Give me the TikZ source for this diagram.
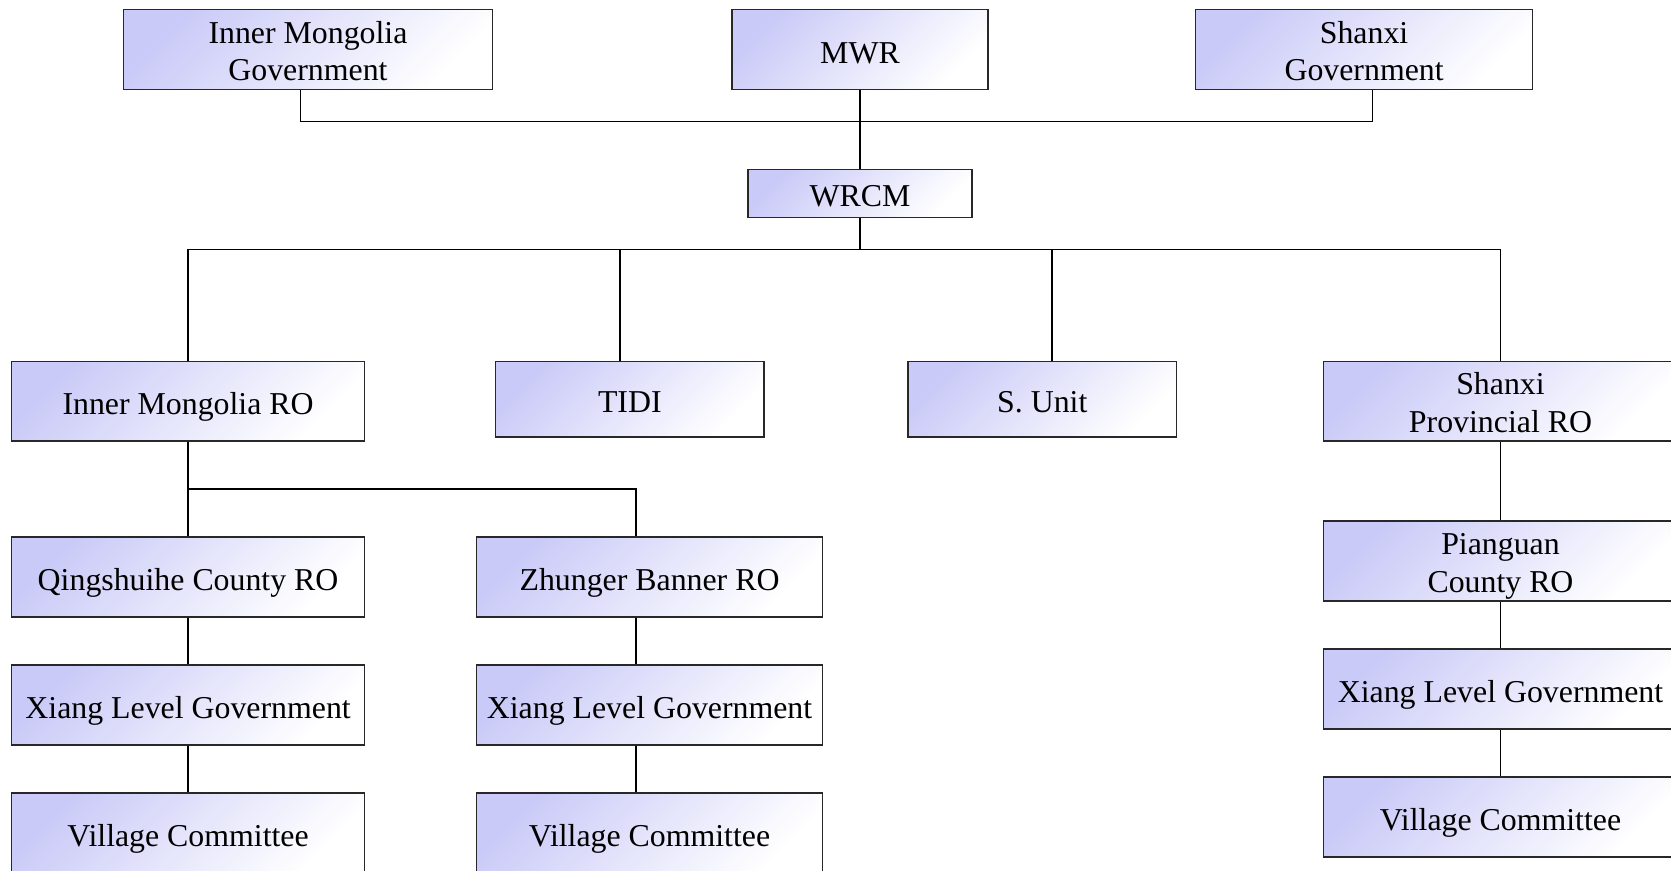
\documentclass[tikz,border=0pt]{standalone}
\usepackage{fontspec}
\setmainfont{Liberation Serif}
\usepackage{tikz}
\usetikzlibrary{positioning, calc}

\definecolor{boxblue}{RGB}{202,202,248}
\definecolor{boxline}{RGB}{40,40,40}
\newcommand\stacktwo[2]{\raisebox{-2.6pt}[\height][\depth]{\begin{tabular}{@{}c@{}}#1\\#2\end{tabular}}}

\begin{document}
\begin{tikzpicture}[x=0.2mm, y=-0.2mm,
    boxbase/.style={rectangle, draw=boxline, line width=0.8pt, top color=boxblue, bottom color=white, shading angle=45, align=center, inner sep=0pt, minimum height=15mm, font=\fontsize{17}{20}\selectfont},
    orgbox/.style={boxbase, execute at begin node={\rule{0pt}{18.5pt}}, execute at end node={\rule[-4pt]{0pt}{4pt}}},
    twobox/.style={boxbase},
    link/.style={draw=black, line width=0.8pt}]
    \useasboundingbox (0,0) rectangle (1568,817);
    \clip (0,0) rectangle (1568,817);

    % top level
    \node (imgov) [twobox, minimum width=69.2mm] at (289,46.5) {\stacktwo{Inner Mongolia}{Government}};
    \node (mwr) [orgbox, minimum width=48mm] at (807,46.5) {MWR};
    \node (sxgov) [twobox, minimum width=63.2mm] at (1280,46.5) {\stacktwo{Shanxi}{Government}};
    \node (wrcm) [orgbox, minimum width=42mm, minimum height=9mm] at (807,181.5) {WRCM};

    % second level
    \node (imro) [orgbox, minimum width=66.2mm] at (176.5,376.5) {Inner Mongolia RO};
    \node (tidi) [orgbox, minimum width=50.4mm, minimum height=14.2mm] at (591,374.5) {TIDI};
    \node (sunit) [orgbox, minimum width=50.4mm, minimum height=14.2mm] at (978,374.5) {S. Unit};
    \node (sxro) [twobox, minimum width=66.4mm] at (1408,376.5) {\stacktwo{Shanxi}{Provincial RO}};

    % county, xiang and village
    \node (qsh) [orgbox, minimum width=66.2mm] at (176.5,541.5) {Qingshuihe County RO};
    \node (zg) [orgbox, minimum width=65mm] at (609.5,541.5) {Zhunger Banner RO};
    \node (xiang1) [orgbox, minimum width=66.2mm] at (176.5,661.5) {Xiang Level Government};
    \node (xiang2) [orgbox, minimum width=65mm] at (609.5,661.5) {Xiang Level Government};
    \node (vill1) [orgbox, minimum width=66.2mm] at (176.5,781.5) {Village Committee};
    \node (vill2) [orgbox, minimum width=65mm] at (609.5,781.5) {Village Committee};
    \node (pg) [twobox, minimum width=66.4mm] at (1408,526.5) {\stacktwo{Pianguan}{County RO}};
    \node (xiang3) [orgbox, minimum width=66.4mm] at (1408,646.5) {Xiang Level Government};
    \node (vill3) [orgbox, minimum width=66.4mm] at (1408,766.5) {Village Committee};

    \coordinate (topbus) at (807,114);
    \coordinate (midbus) at (807,234);
    \coordinate (imbus) at (177,459);

    \draw[link] (imgov.south -| 282,0) |- (topbus) -| (sxgov.south -| 1288,0);
    \draw[link] (mwr) -- (wrcm);
    \draw[link] (wrcm) -- (midbus);
    \draw[link] (imro.north) |- (midbus) -| (sxro.north);
    \draw[link] (tidi.north -| 582,0) -- (midbus -| 582,0);
    \draw[link] (sunit.north -| 987,0) -- (midbus -| 987,0);

    \draw[link] (imro) -- (qsh);
    \draw[link] (imbus) -| (zg.north -| 597,0);
    \draw[link] (qsh) -- (xiang1);
    \draw[link] (xiang1) -- (vill1);
    \draw[link] (zg.south -| 597,0) -- (xiang2.north -| 597,0);
    \draw[link] (xiang2.south -| 597,0) -- (vill2.north -| 597,0);
    \draw[link] (sxro) -- (pg);
    \draw[link] (pg) -- (xiang3);
    \draw[link] (xiang3) -- (vill3);
\end{tikzpicture}
\end{document}
